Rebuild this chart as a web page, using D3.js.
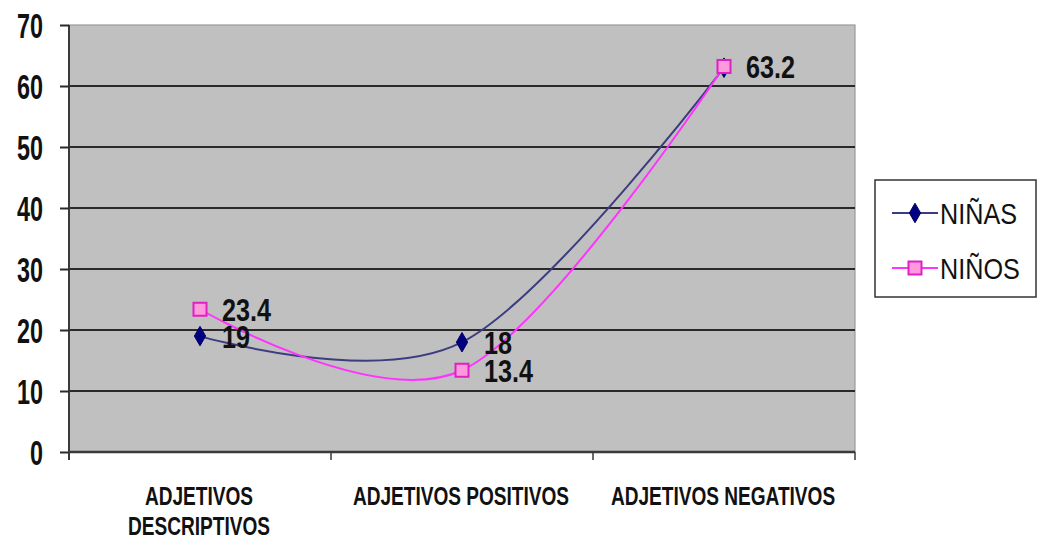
<!DOCTYPE html>
<html>
<head>
<meta charset="utf-8">
<script src="https://cdn.jsdelivr.net/npm/d3@7"></script>
<style>
  html, body { margin: 0; padding: 0; background: #fff; }
  svg { display: block; }
  text { font-family: "Liberation Sans", Arial, sans-serif; }
</style>
</head>
<body>
<svg id="chart" width="1038" height="538"></svg>
<script>
// Categories and series values
const categories = [["ADJETIVOS", "DESCRIPTIVOS"], ["ADJETIVOS POSITIVOS"], ["ADJETIVOS NEGATIVOS"]];
const ninasValues = [19, 18, 63];
const ninosValues = [23.4, 13.4, 63.2];
const ninasLabels = ["19", "18", null];
const ninosLabels = ["23.4", "13.4", "63.2"];
const yTicks = [0, 10, 20, 30, 40, 50, 60, 70];
const seriesNames = ["NIÑAS", "NIÑOS"];

const svg = d3.select("#chart");
const plot = { left: 69, right: 855, top: 25, bottom: 452 };

const x = d3.scaleBand()
  .domain(d3.range(categories.length))
  .range([plot.left, plot.right])
  .paddingInner(0).paddingOuter(0);
const xc = i => x(i) + x.bandwidth() / 2;
const y = d3.scaleLinear().domain([0, 70]).range([plot.bottom, plot.top]);

// plot background
svg.append("rect")
  .attr("x", plot.left).attr("y", plot.top)
  .attr("width", plot.right - plot.left).attr("height", plot.bottom - plot.top)
  .attr("fill", "#c0c0c0")
  .attr("stroke", "#9a9a9a").attr("stroke-width", 1.2);

// horizontal gridlines
svg.append("g")
  .selectAll("line")
  .data(yTicks.filter(t => t > 0 && t < 70))
  .join("line")
  .attr("x1", plot.left).attr("x2", plot.right)
  .attr("y1", d => y(d)).attr("y2", d => y(d))
  .attr("stroke", "#2a2a2a").attr("stroke-width", 2);

// y axis
const yAxis = svg.append("g")
  .attr("transform", `translate(${plot.left},0)`)
  .call(d3.axisLeft(y).tickValues(yTicks).tickSize(9).tickPadding(0).tickFormat(d3.format("d")));
yAxis.select(".domain").attr("stroke", "#3a3a3a").attr("stroke-width", 2)
  .attr("d", `M0,${plot.top}V${plot.bottom + 8}`);
yAxis.selectAll(".tick line").attr("stroke", "#2a2a2a").attr("stroke-width", 2);
yAxis.selectAll(".tick text")
  .attr("x", null).attr("dy", null)
  .attr("text-anchor", "end")
  .attr("transform", "translate(-26,12.5) scale(0.835,1.247)")
  .attr("font-size", 28).attr("font-weight", "bold").attr("fill", "#111");

// x axis
const xAxis = svg.append("g")
  .attr("transform", `translate(0,${plot.bottom})`);
xAxis.append("line")
  .attr("x1", plot.left).attr("x2", plot.right)
  .attr("stroke", "#3a3a3a").attr("stroke-width", 2.5);
xAxis.selectAll("line.tick")
  .data(d3.range(categories.length + 1))
  .join("line")
  .attr("class", "tick")
  .attr("x1", d => d < categories.length ? x(d) : plot.right)
  .attr("x2", d => d < categories.length ? x(d) : plot.right)
  .attr("y1", 0).attr("y2", 8)
  .attr("stroke", "#3a3a3a").attr("stroke-width", 1.5);
xAxis.selectAll("g.cat")
  .data(categories)
  .join("g")
  .attr("class", "cat")
  .each(function (lines, i) {
    const g = d3.select(this);
    lines.forEach((ln, j) => {
      g.append("text")
        .attr("text-anchor", "middle")
        .attr("transform", `translate(${xc(i) - 1},${53 + j * 30}) scale(0.867,1.14)`)
        .attr("font-size", 22).attr("font-weight", "bold").attr("fill", "#111")
        .text(ln);
    });
  });

// smoothed series lines
const line = d3.line()
  .x((d, i) => xc(i))
  .y(d => y(d))
  .curve(d3.curveCardinal.tension(0));

svg.append("path")
  .datum(ninasValues)
  .attr("d", line)
  .attr("fill", "none").attr("stroke", "#3c3c80").attr("stroke-width", 2);
svg.append("path")
  .datum(ninosValues)
  .attr("d", line)
  .attr("fill", "none").attr("stroke", "#ff33ff").attr("stroke-width", 2);

// markers
const diamond = d3.symbol().type(d3.symbolDiamond).size(110);
svg.append("g").selectAll("path")
  .data(ninasValues)
  .join("path")
  .attr("d", diamond)
  .attr("transform", (d, i) => `translate(${xc(i)},${y(d)})`)
  .attr("fill", "#000080").attr("stroke", "#000060").attr("stroke-width", 1);

svg.append("g").selectAll("rect")
  .data(ninosValues)
  .join("rect")
  .attr("x", (d, i) => xc(i) - 6.5).attr("y", d => y(d) - 6.5)
  .attr("width", 13).attr("height", 13)
  .attr("fill", "#ff99dd").attr("stroke", "#e020c0").attr("stroke-width", 2);

// value labels
function drawLabels(vals, labels) {
  svg.append("g").selectAll("text")
    .data(vals.map((v, i) => ({ v, i, t: labels[i] })).filter(d => d.t))
    .join("text")
    .attr("transform", d => `translate(${xc(d.i) + 22},${y(d.v) + 11.5}) scale(0.84,1.07)`)
    .attr("font-size", 30).attr("font-weight", "bold").attr("fill", "#111")
    .text(d => d.t);
}
drawLabels(ninasValues, ninasLabels);
drawLabels(ninosValues, ninosLabels);

// legend
const legend = svg.append("g");
legend.append("rect")
  .attr("x", 875).attr("y", 180).attr("width", 161).attr("height", 117)
  .attr("fill", "#fff").attr("stroke", "#333").attr("stroke-width", 1.5);
const legendRows = [
  { name: seriesNames[0], cy: 213, color: "#3c3c80" },
  { name: seriesNames[1], cy: 268, color: "#ff33ff" }
];
legendRows.forEach((r, k) => {
  legend.append("line")
    .attr("x1", 892).attr("x2", 938).attr("y1", r.cy).attr("y2", r.cy)
    .attr("stroke", r.color).attr("stroke-width", 2);
  if (k === 0) {
    legend.append("path").attr("d", diamond)
      .attr("transform", `translate(915,${r.cy})`)
      .attr("fill", "#000080").attr("stroke", "#000060");
  } else {
    legend.append("rect")
      .attr("x", 915 - 6.5).attr("y", r.cy - 6.5).attr("width", 13).attr("height", 13)
      .attr("fill", "#ff99dd").attr("stroke", "#e020c0").attr("stroke-width", 2);
  }
  legend.append("text")
    .attr("transform", `translate(940,${r.cy + 10.5}) scale(0.9,1.05)`)
    .attr("font-size", 28).attr("fill", "#111")
    .text(r.name);
});
</script>
</body>
</html>
